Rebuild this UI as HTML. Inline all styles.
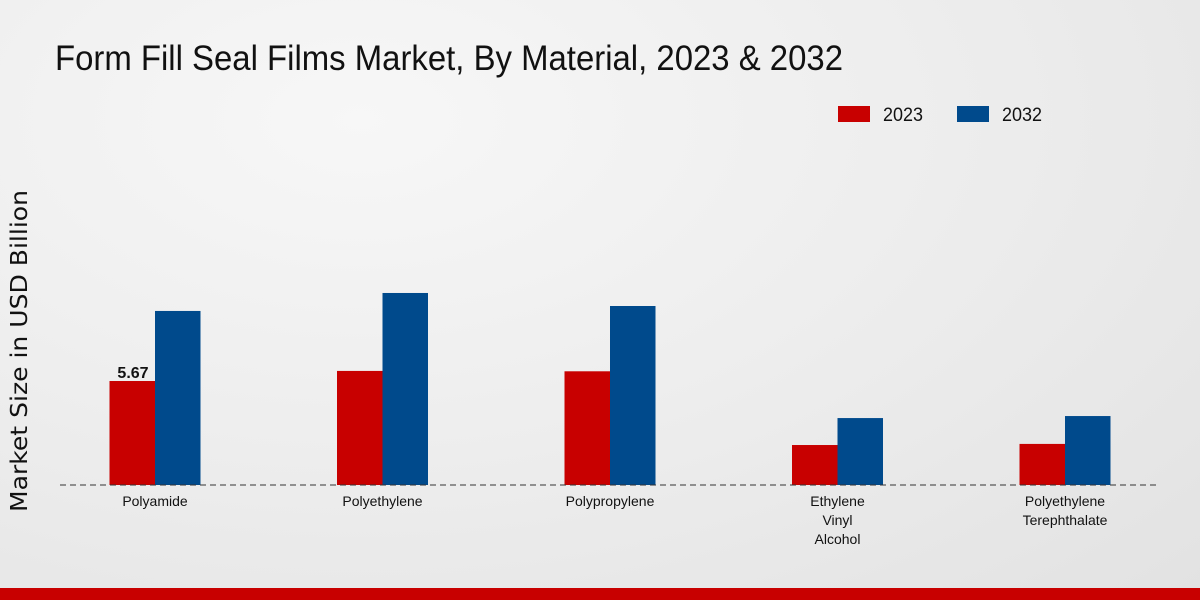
<!DOCTYPE html>
<html><head><meta charset="utf-8"><style>
body{margin:0;width:1200px;height:600px;overflow:hidden;background:radial-gradient(ellipse at 30% 20%,#f7f7f7 0%,#ececec 55%,#e2e2e2 100%);font-family:"Liberation Sans Narrow","Liberation Sans",sans-serif;}
svg{position:absolute;left:0;top:0}
</style></head><body>
<svg width="1200" height="600">
<text x="55" y="70" font-size="35" textLength="788" lengthAdjust="spacingAndGlyphs" fill="#111">Form Fill Seal Films Market, By Material, 2023 &amp; 2032</text>
<text transform="translate(27,351) rotate(-90)" text-anchor="middle" font-size="23" textLength="322" lengthAdjust="spacingAndGlyphs" fill="#111" font-family="DejaVu Sans,sans-serif">Market Size in USD Billion</text>
<g>
<rect x="838" y="106" width="32" height="16" fill="#c80000"/>
<text x="883" y="121" font-size="19" textLength="40" lengthAdjust="spacingAndGlyphs" fill="#111">2023</text>
<rect x="957" y="106" width="32" height="16" fill="#004a8c"/>
<text x="1002" y="121" font-size="19" textLength="40" lengthAdjust="spacingAndGlyphs" fill="#111">2032</text>
</g>
<g id="bars"></g>
<line x1="60" y1="485" x2="1160" y2="485" stroke="#333" stroke-dasharray="6,4" stroke-width="1"/>
<g id="labels"></g>
<rect x="0" y="588" width="1200" height="12" fill="#c80000"/>
</svg>
<script>
const categories=[["Polyamide"],["Polyethylene"],["Polypropylene"],["Ethylene","Vinyl","Alcohol"],["Polyethylene","Terephthalate"]];
const values2023=[5.67,6.22,6.2,2.18,2.24];
const values2032=[9.49,10.47,9.76,3.65,3.76];
const NS="http://www.w3.org/2000/svg";
const base=485,scale=18.34,x0=155,step=227.5,bw=45.5;
const yPix=v=>base-v*scale;
const gx=i=>x0+i*step;
const bars=document.getElementById('bars'),labels=document.getElementById('labels');
function mk(t,a){const e=document.createElementNS(NS,t);for(const k in a)e.setAttribute(k,a[k]);return e;}
categories.forEach((c,i)=>{
 const r=mk('rect',{x:gx(i)-bw,y:yPix(values2023[i]),width:bw,height:values2023[i]*scale,fill:'#c80000'});
 
 
 bars.appendChild(r);
 const b=mk('rect',{x:gx(i),y:yPix(values2032[i]),width:bw,height:values2032[i]*scale,fill:'#004a8c'});
 
 
 bars.appendChild(b);
 c.forEach((ln,j)=>{
  const t=mk('text',{x:gx(i),y:506+j*19,'text-anchor':'middle','font-size':'14',fill:'#111'});
  t.textContent=ln;
  
  
  labels.appendChild(t);
 });
});
const v=mk('text',{x:gx(0)-22,y:yPix(values2023[0])-3,'text-anchor':'middle','font-size':'16','font-weight':'bold',fill:'#111'});
v.textContent=values2023[0].toFixed(2);


labels.appendChild(v);
</script>
</body></html>
